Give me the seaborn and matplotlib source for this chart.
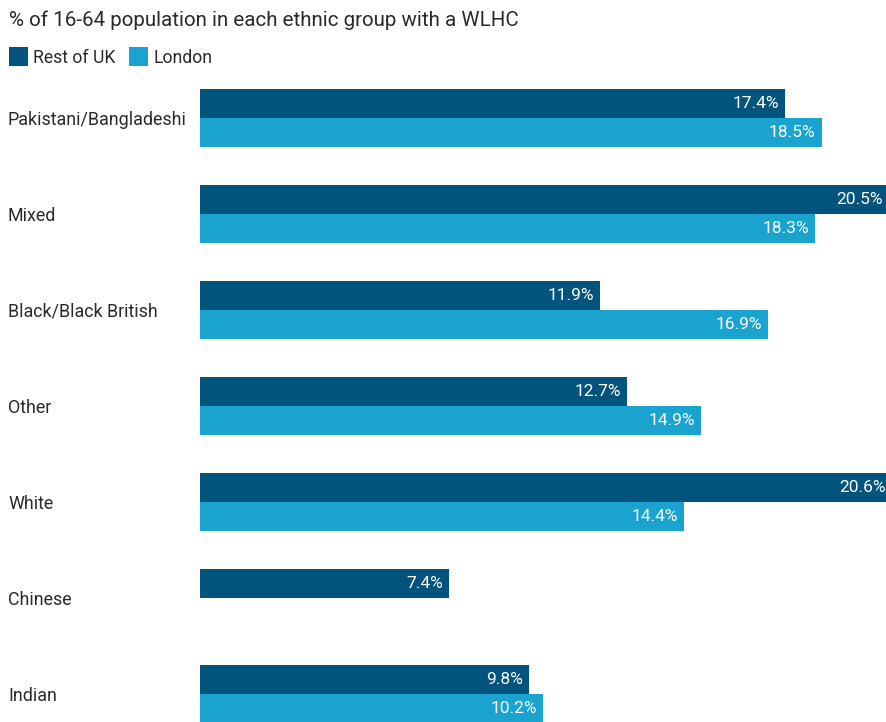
import matplotlib
matplotlib.use("Agg")
import matplotlib.pyplot as plt
import seaborn as sns
import pandas as pd
import numpy as np

categories = ["Pakistani/Bangladeshi", "Mixed", "Black/Black British", "Other",
              "White", "Chinese", "Indian"]
rest_of_uk = [17.4, 20.5, 11.9, 12.7, 20.6, 7.4, 9.8]
london = [18.5, 18.3, 16.9, 14.9, 14.4, np.nan, 10.2]
series_names = ["Rest of UK", "London"]
colors = ["#02547c", "#1ba3d0"]
title = "% of 16-64 population in each ethnic group with a WLHC"

df = pd.DataFrame({
    "group": categories * 2,
    "series": [series_names[0]] * len(categories) + [series_names[1]] * len(categories),
    "value": rest_of_uk + london,
})

sns.set_theme(style="white")
plt.rcParams["font.family"] = ["Roboto", "DejaVu Sans"]

W, H = 886, 722
fig = plt.figure(figsize=(W / 100, H / 100), dpi=100)
ax_left, ax_top = 200, 80
ax = fig.add_axes([ax_left / W, 0, 1 - ax_left / W, 1 - ax_top / H])

sns.barplot(data=df, y="group", x="value", hue="series", orient="h",
            palette=colors, width=0.604, dodge=True, gap=0, saturation=1,
            linewidth=0, edgecolor="none",
            ax=ax, order=categories, hue_order=series_names)

px_per_unit = 33.6
ax.set_xlim(0, (W - ax_left) / px_per_unit)
ax.set_ylim(6 + (H - 694) / 96, -(118 - ax_top) / 96)

for cont in ax.containers:
    for bar in cont:
        w = bar.get_width()
        if not np.isfinite(w) or w == 0:
            continue
        y = bar.get_y() + bar.get_height() / 2
        ax.annotate(f"{w:.1f}%", xy=(w, y), xytext=(-6, 0),
                    textcoords="offset pixels", ha="right", va="center",
                    color="white", fontsize=12.5, annotation_clip=False)

for s in ax.spines.values():
    s.set_visible(False)
ax.set_xticks([])
ax.set_xlabel("")
ax.set_ylabel("")
ax.tick_params(axis="y", length=0, pad=(ax_left - 8) / 100 * 72, labelsize=12.85,
               labelcolor="#2a2a2a")
for lab in ax.get_yticklabels():
    lab.set_horizontalalignment("left")

fig.text(9 / W, 1 - 20 / H, title, ha="left", va="center", fontsize=14.8,
         color="#2a2a2a")

sns.move_legend(ax, loc="center left", bbox_to_anchor=(2 / W, 1 - 57 / H),
                bbox_transform=fig.transFigure, ncol=2, frameon=False,
                title=None, fontsize=12.7, handlelength=1.05, handleheight=1.3,
                handletextpad=0.3, columnspacing=0.8, borderaxespad=0)
for t in ax.get_legend().get_texts():
    t.set_color("#2a2a2a")

fig.savefig("out.png", dpi=100)
